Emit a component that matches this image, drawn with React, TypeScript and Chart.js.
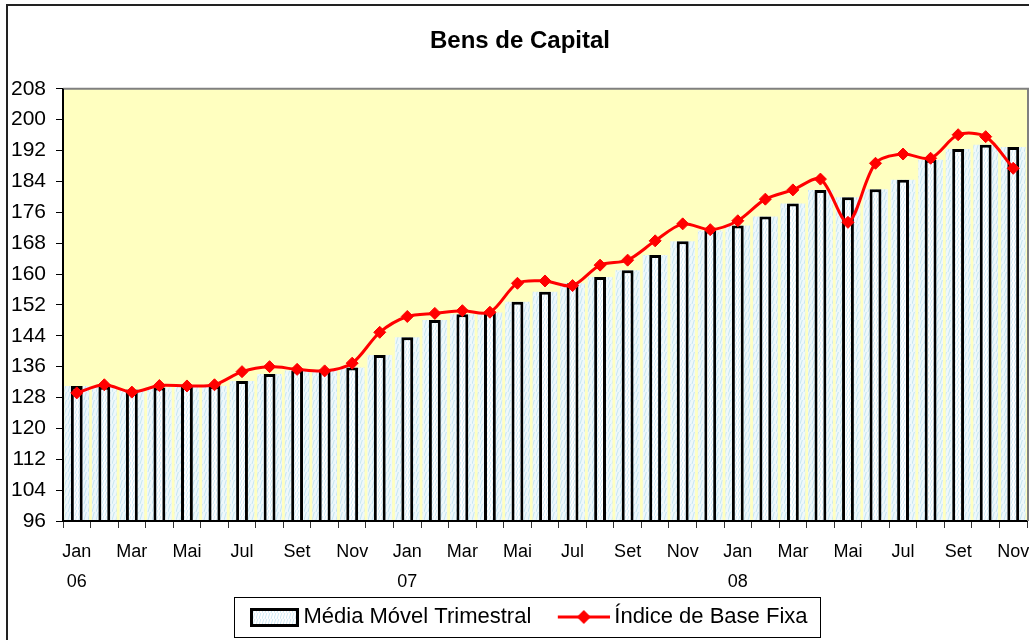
import React, { useEffect, useRef } from 'react';
import { Chart, registerables } from 'chart.js';

Chart.register(...registerables);

const monthNames = ['Jan', 'Fev', 'Mar', 'Abr', 'Mai', 'Jun', 'Jul', 'Ago', 'Set', 'Out', 'Nov', 'Dez'];
const yearLabels = ['06', '07', '08'];
const shownMonths = ['Jan', 'Mar', 'Mai', 'Jul', 'Set', 'Nov'];

const mediaMovel = [
  131.0, 130.8, 130.1, 130.6, 130.8, 131.0, 132.3, 134.1, 135.0, 135.2, 135.8, 139.0,
  143.6, 148.1, 149.6, 150.0, 152.8, 155.4, 157.6, 159.2, 161.0, 164.9, 168.5, 171.3,
  172.6, 174.9, 178.3, 181.8, 179.9, 182.0, 184.4, 189.6, 192.4, 193.5, 192.9,
];

const indiceBaseFixa = [
  129.2, 131.3, 129.4, 131.1, 131.0, 131.3, 134.7, 136.0, 135.3, 134.9, 136.9, 144.9,
  149.0, 149.8, 150.5, 150.1, 157.6, 158.2, 157.0, 162.3, 163.6, 168.6, 173.0, 171.5,
  173.8, 179.4, 181.8, 184.6, 173.4, 188.7, 191.1, 190.0, 196.1, 195.6, 187.4,
];

const yMin = 96;
const yMax = 208;
const yStep = 8;

const categories = mediaMovel.map(
  (_, i) => monthNames[i % 12] + ' ' + yearLabels[Math.floor(i / 12)]
);

const titleText = 'Bens de Capital';
const seriesNames = ['Média Móvel Trimestral', 'Índice de Base Fixa'];

const LEG_BOX = 60;
const LEG_ICON_W = LEG_BOX + 13;
const CANVAS_W = 1034;

function makePattern(ctx: CanvasRenderingContext2D, base: string, stripe: string, size: number) {
  const c = document.createElement('canvas');
  c.width = size;
  c.height = size;
  const g = c.getContext('2d')!;
  g.fillStyle = base;
  g.fillRect(0, 0, size, size);
  g.strokeStyle = stripe;
  g.lineWidth = 1;
  g.beginPath();
  g.moveTo(0, size);
  g.lineTo(size * 0.3, 0);
  g.moveTo(size * 0.5, size);
  g.lineTo(size * 0.8, 0);
  g.stroke();
  return ctx.createPattern(c, 'repeat') as CanvasPattern;
}

export default function App() {
  const ref = useRef<HTMLCanvasElement | null>(null);

  useEffect(() => {
    const canvas = ref.current!;
    const ctx = canvas.getContext('2d')!;
    Chart.defaults.font.family = "'Liberation Sans', Arial, sans-serif";
    Chart.defaults.color = '#000';

    const barFill = makePattern(ctx, '#ffffff', '#d2ecf6', 6);
    const shadowFill = makePattern(ctx, '#eef8fb', '#c6e5f1', 8);

    const barIcon = document.createElement('canvas');
    barIcon.width = LEG_ICON_W;
    barIcon.height = 20;
    {
      const g = barIcon.getContext('2d')!;
      const x0 = LEG_ICON_W - 49;
      g.fillStyle = makePattern(g, '#ffffff', '#cfe9f4', 6);
      g.fillRect(x0, 2, 49, 17);
      g.strokeStyle = '#000';
      g.lineWidth = 3;
      g.strokeRect(x0 + 1.5, 2.5, 46, 16);
    }
    const lineIcon = document.createElement('canvas');
    lineIcon.width = LEG_ICON_W;
    lineIcon.height = 16;
    {
      const g = lineIcon.getContext('2d')!;
      const x0 = LEG_ICON_W - 52;
      g.strokeStyle = '#ff0000';
      g.lineWidth = 3;
      g.beginPath();
      g.moveTo(x0, 8);
      g.lineTo(x0 + 52, 8);
      g.stroke();
      g.fillStyle = '#ff0000';
      g.beginPath();
      g.moveTo(x0 + 26, 1);
      g.lineTo(x0 + 33, 8);
      g.lineTo(x0 + 26, 15);
      g.lineTo(x0 + 19, 8);
      g.closePath();
      g.fill();
    }

    const framePlugin = {
      id: 'frame',
      beforeDraw(chart: any) {
        const { ctx: c, chartArea: a, width, height } = chart;
        c.save();
        c.fillStyle = '#ffffff';
        c.fillRect(0, 0, width, height);
        c.strokeStyle = '#222';
        c.lineWidth = 2;
        c.strokeRect(7, 5, width + 50, height + 50);
        c.fillStyle = '#FFFFC0';
        c.fillRect(a.left, a.top, a.right - a.left, a.bottom - a.top);
        c.restore();
      },
      afterDatasetsDraw(chart: any) {
        const { ctx: c, chartArea: a } = chart;
        c.save();
        c.strokeStyle = '#808080';
        c.lineWidth = 2;
        c.beginPath();
        c.moveTo(a.left, a.top);
        c.lineTo(a.right + 1, a.top);
        c.lineTo(a.right + 1, a.bottom);
        c.stroke();
        c.strokeStyle = '#000';
        c.beginPath();
        c.moveTo(a.left, a.top);
        c.lineTo(a.left, a.bottom);
        c.lineTo(a.right, a.bottom);
        c.stroke();
        c.restore();
      },
      afterDraw(chart: any) {
        const lg = chart.legend;
        if (!lg || !lg.legendHitBoxes || !lg.legendHitBoxes.length) return;
        const boxes = lg.legendHitBoxes;
        let l = Infinity, r = -Infinity;
        boxes.forEach((b: any) => {
          l = Math.min(l, b.left);
          r = Math.max(r, b.left + b.width);
        });
        const left = l + 1.5;
        const c = chart.ctx;
        c.save();
        c.strokeStyle = '#000';
        c.lineWidth = 1;
        c.strokeRect(Math.round(left) + 0.5, 597.5, Math.round(r + 12 - left), 40);
        c.restore();
      },
    };

    const chart = new Chart(ctx, {
      type: 'bar',
      data: {
        labels: categories,
        datasets: [
          {
            type: 'line',
            label: seriesNames[1],
            data: indiceBaseFixa,
            borderColor: '#ff0000',
            backgroundColor: '#ff0000',
            borderWidth: 3,
            tension: 0.3,
            pointStyle: 'rectRot',
            pointRadius: 6,
            pointBorderWidth: 1,
            pointBackgroundColor: '#ff0000',
            pointBorderColor: '#ff0000',
            order: 0,
            clip: false,
          } as any,
          {
            type: 'bar',
            label: seriesNames[0],
            data: mediaMovel,
            backgroundColor: barFill,
            borderColor: '#000',
            borderWidth: 3,
            borderSkipped: false,
            barPercentage: 0.43,
            categoryPercentage: 1,
            grouped: false,
            order: 1,
          } as any,
          {
            type: 'bar',
            label: '',
            data: mediaMovel,
            backgroundColor: shadowFill,
            borderWidth: 0,
            barPercentage: 0.9,
            categoryPercentage: 1,
            grouped: false,
            order: 2,
          } as any,
        ],
      },
      options: {
        responsive: false,
        animation: false,
        layout: { padding: { left: 8, right: 2, top: 0, bottom: 2 } },
        plugins: {
          tooltip: { enabled: false },
          title: {
            display: true,
            text: titleText,
            color: '#000',
            font: { size: 24, weight: 'bold' },
            padding: { top: 27, bottom: 33 },
          },
          legend: {
            position: 'bottom',
            labels: {
              usePointStyle: true,
              pointStyleWidth: LEG_BOX,
              padding: 12,
              color: '#000',
              font: { size: 22 },
              generateLabels: () => [
                {
                  text: seriesNames[0],
                  pointStyle: barIcon as any,
                  fillStyle: '#fff',
                  strokeStyle: '#000',
                  lineWidth: 0,
                  hidden: false,
                  datasetIndex: 1,
                },
                {
                  text: seriesNames[1],
                  pointStyle: lineIcon as any,
                  fillStyle: '#f00',
                  strokeStyle: '#f00',
                  lineWidth: 0,
                  hidden: false,
                  datasetIndex: 0,
                },
              ],
            },
          },
        },
        scales: {
          x: {
            offset: true,
            grid: {
              offset: true,
              drawOnChartArea: false,
              drawTicks: true,
              tickLength: 7,
              tickColor: '#333',
              tickWidth: 1,
            },
            border: { display: true, color: '#000', width: 2 },
            ticks: {
              autoSkip: false,
              maxRotation: 0,
              padding: 9,
              color: '#000',
              font: { size: 18, lineHeight: 1.667 },
              callback: (_v: any, idx: number) => {
                const m = monthNames[idx % 12];
                if (!shownMonths.includes(m)) return '';
                return m === 'Jan' ? [m, yearLabels[Math.floor(idx / 12)]] : m;
              },
            },
            afterFit: (s: any) => {
              s.height = 73;
              s.paddingLeft = 0;
              s.paddingRight = 0;
            },
          },
          y: {
            min: yMin,
            max: yMax,
            grid: {
              drawOnChartArea: false,
              drawTicks: true,
              tickLength: 7,
              tickColor: '#000',
              tickWidth: 1,
            },
            border: { display: true, color: '#000', width: 2 },
            ticks: {
              stepSize: yStep,
              padding: 10,
              color: '#000',
              font: { size: 21 },
            },
            afterFit: (s: any) => {
              s.width = 55;
            },
          },
        },
      } as any,
      plugins: [framePlugin],
    });

    return () => chart.destroy();
  }, []);

  return (
    <div style={{ position: 'fixed', left: 0, top: 0, width: 1029, height: 640, overflow: 'hidden' }}>
      <canvas ref={ref} width={CANVAS_W} height={640} style={{ display: 'block' }} />
    </div>
  );
}
